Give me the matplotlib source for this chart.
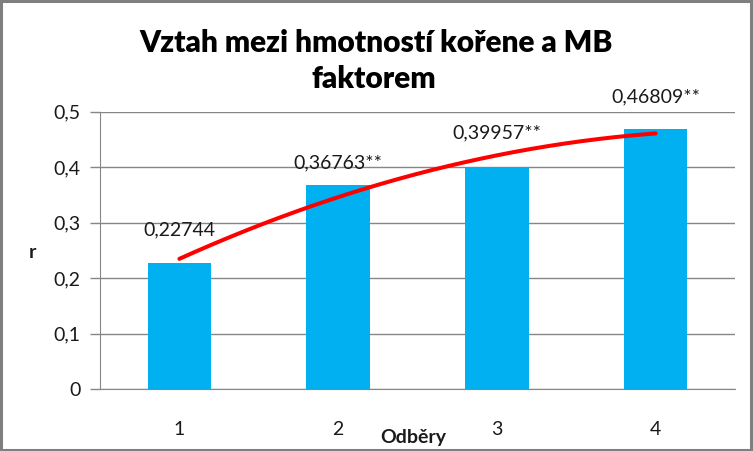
import numpy as np
import matplotlib
matplotlib.use("Agg")
import matplotlib.pyplot as plt
from matplotlib.patches import Rectangle

# data
odbery = [1, 2, 3, 4]
r_values = [0.22744, 0.36763, 0.39957, 0.46809]
labels = ["0,22744", "0,36763**", "0,39957**", "0,46809**"]
yticks = [0, 0.1, 0.2, 0.3, 0.4, 0.5]

plt.rcParams['font.family'] = ['Lato', 'DejaVu Sans']

W, H = 753, 451
fig = plt.figure(figsize=(W / 100, H / 100), dpi=100)
fig.patch.set_facecolor("white")

# plot area in pixels
left, right, top, bottom = 100, 735, 111.7, 389
ax = fig.add_axes([left / W, 1 - bottom / H, (right - left) / W, (bottom - top) / H])

ax.bar(odbery, r_values, width=0.4, color="#00B0F0", zorder=2)

# polynomial trend line (order 2), like the Excel trendline
coef = np.polyfit(odbery, r_values, 2)
xs = np.linspace(odbery[0], odbery[-1], 200)
ax.plot(xs, np.polyval(coef, xs), color="#FF0000", lw=2.9, zorder=3,
        solid_capstyle="round")

# data labels, offsets (in r units) as placed in the original
offsets = [0.06, 0.04, 0.062, 0.058]
for x, v, lab, off in zip(odbery, r_values, labels, offsets):
    ax.text(x, v + off, lab, ha="center", va="center", fontsize=14,
            color="#1a1a1a", zorder=4)

ax.set_xlim(0.5, 4.5)
ax.set_ylim(0, 0.5)
ax.set_yticks(yticks)
ax.set_yticklabels([f"{t:g}".replace(".", ",") for t in yticks])
ax.set_xticks(odbery)
ax.set_xticklabels([str(o) for o in odbery])
ax.tick_params(axis="y", length=7, width=1, color="#868686", pad=7,
               labelsize=14, labelcolor="#1a1a1a")
ax.tick_params(axis="x", length=0, pad=23, labelsize=14, labelcolor="#1a1a1a")

ax.yaxis.grid(True, color="#868686", lw=1)
ax.set_axisbelow(True)
for s in ["top", "right"]:
    ax.spines[s].set_visible(False)
ax.spines["left"].set_color("#868686")
ax.spines["bottom"].set_color("#868686")

# axis titles
fig.text(32 / W, 1 - 253 / H, "r", fontsize=14, fontweight="bold",
         ha="center", va="center", color="#1a1a1a")
fig.text(413 / W, 1 - 437 / H, "Odběry", fontsize=14, fontweight="bold",
         ha="center", va="center", color="#1a1a1a")

# chart title
fig.text(376 / W, 1 - 43 / H, "Vztah mezi hmotností kořene a MB", fontsize=21.5,
         fontweight="heavy", ha="center", va="center", color="black")
fig.text(374 / W, 1 - 79 / H, "faktorem", fontsize=21.5,
         fontweight="heavy", ha="center", va="center", color="black")

# chart border
fig.patches.append(Rectangle((0.0015, 0.003), 0.996, 0.994, transform=fig.transFigure,
                             fill=False, edgecolor="#7f7f7f", lw=2.2))

fig.savefig("out.png", dpi=100)
